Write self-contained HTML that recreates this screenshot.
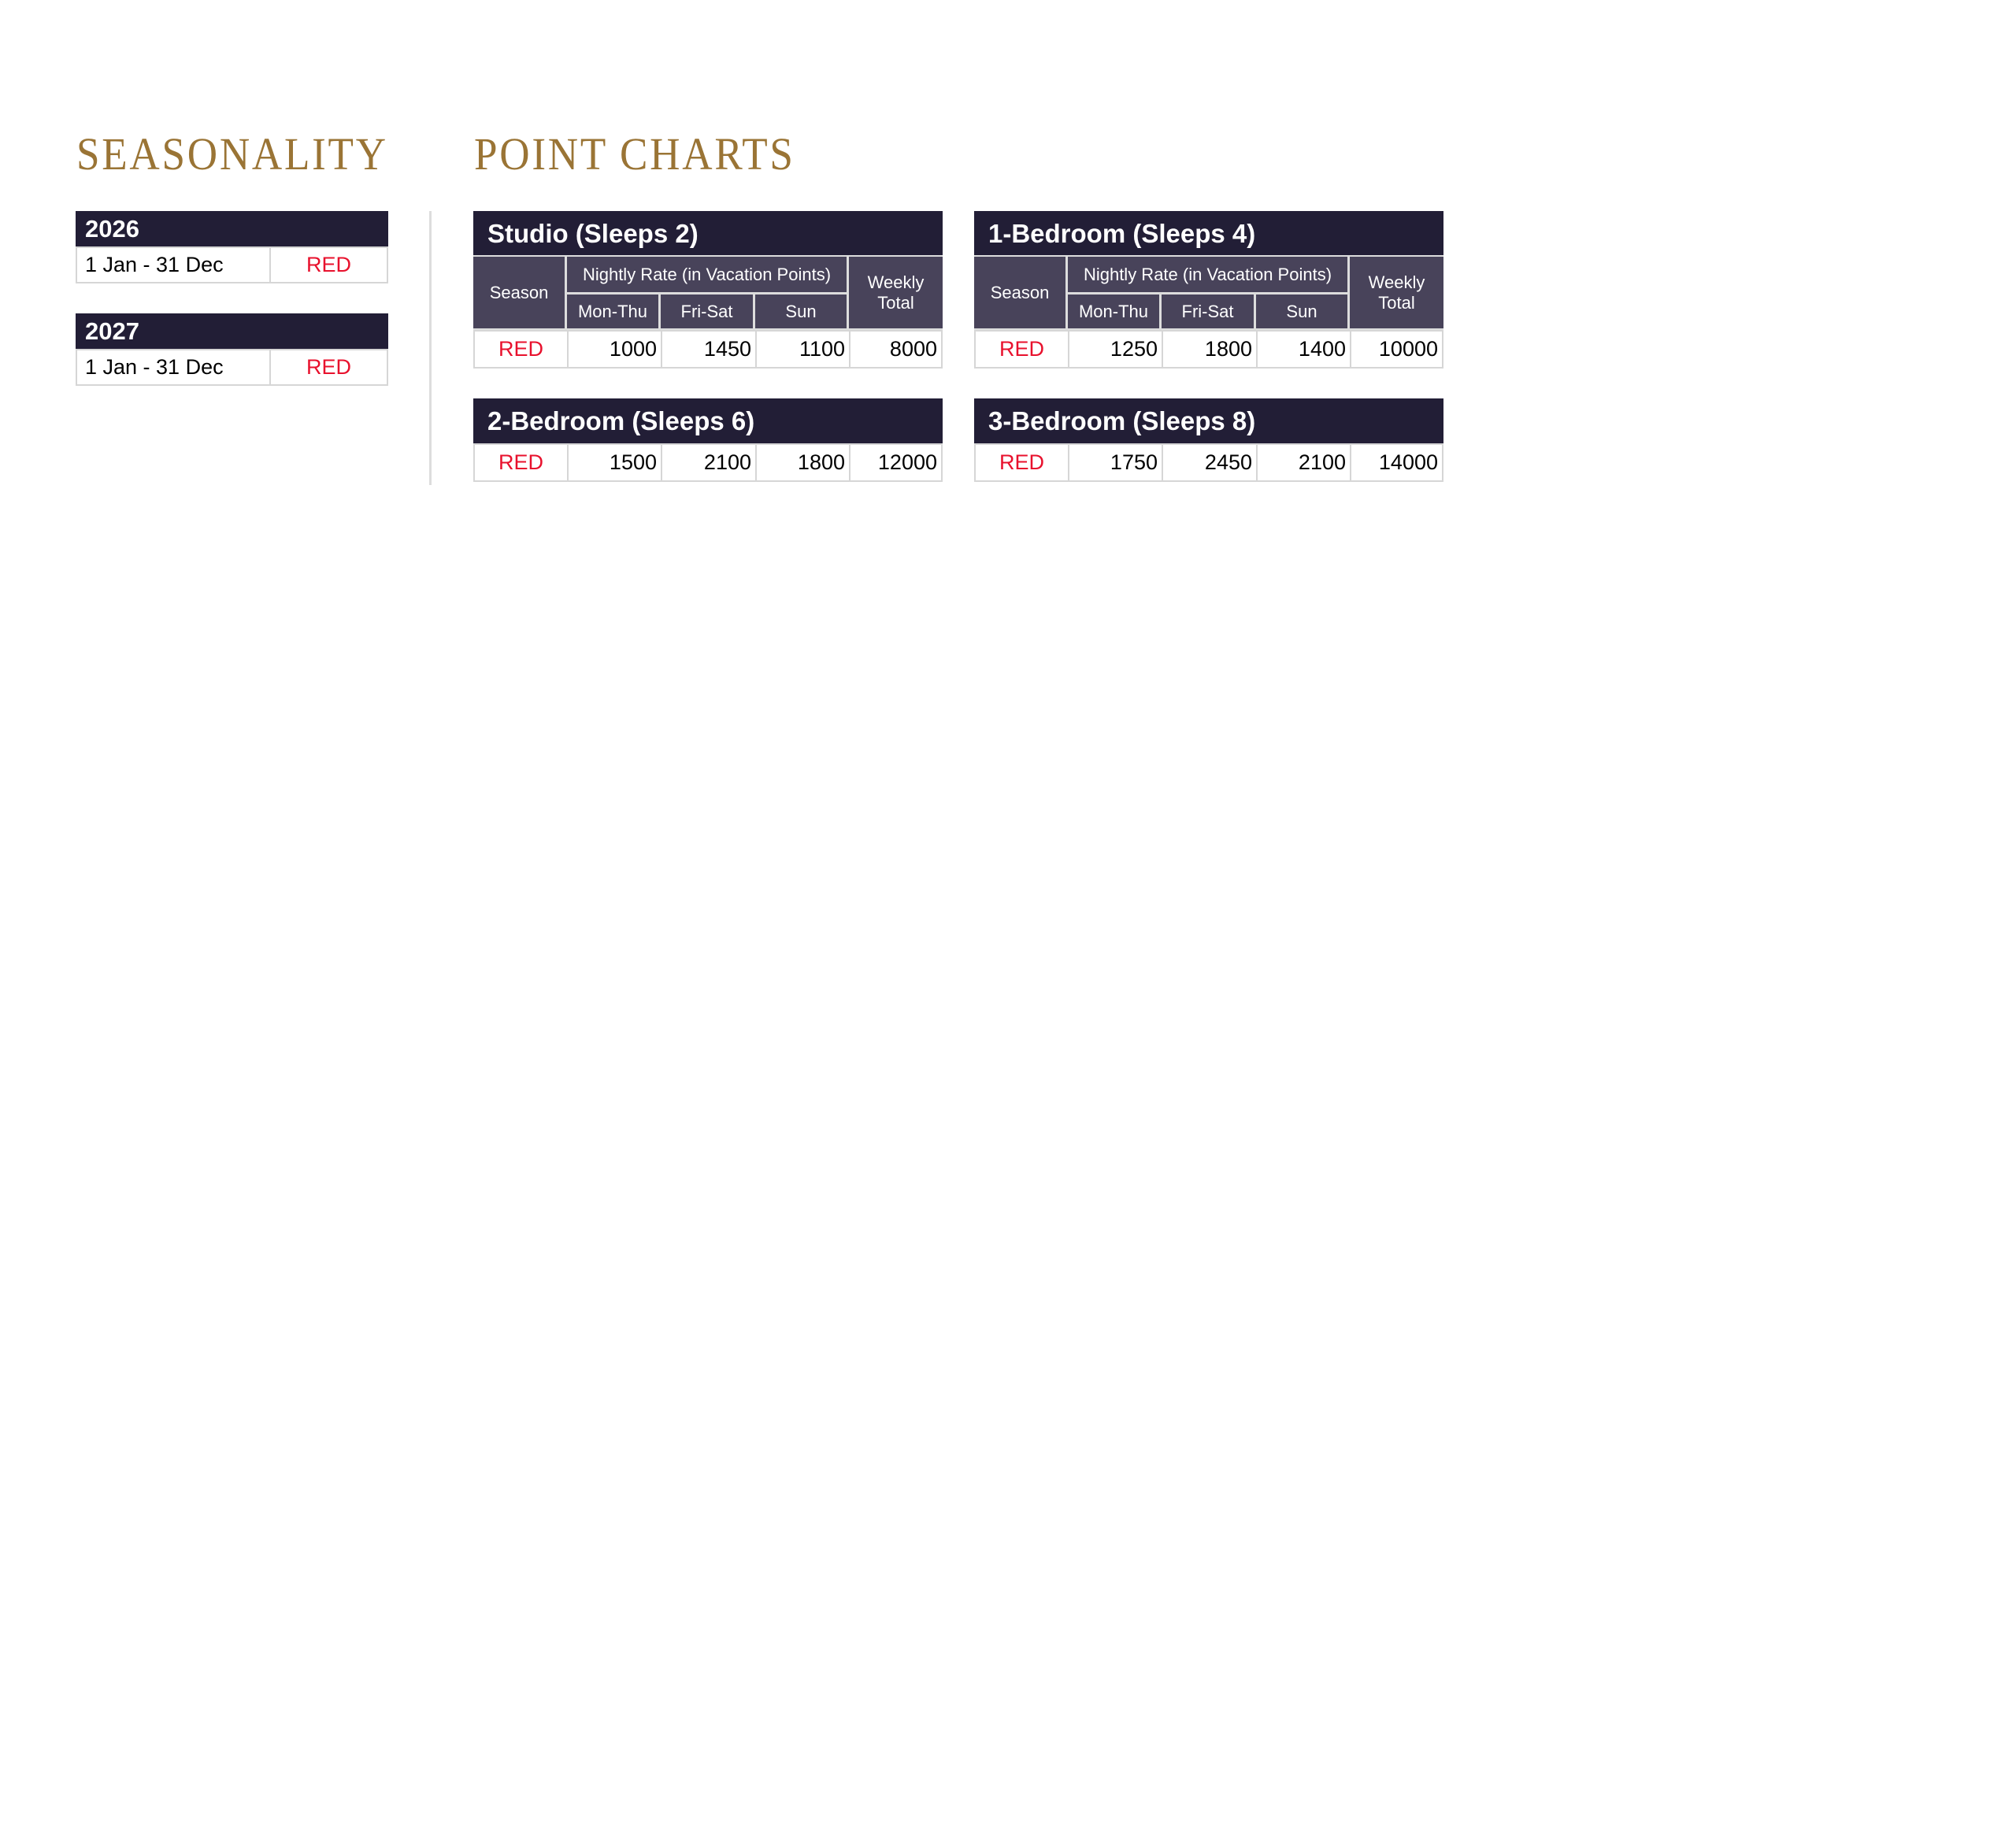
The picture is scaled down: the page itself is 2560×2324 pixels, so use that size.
<!DOCTYPE html>
<html><head><meta charset="utf-8"><style>
*{margin:0;padding:0;box-sizing:border-box}
body{width:2560px;height:2324px;background:#fff;position:relative;font-family:"Liberation Sans",sans-serif;overflow:hidden}
.a{position:absolute}
.t{position:absolute;font-family:"Liberation Serif",serif;color:#9a7435;font-size:58px;letter-spacing:3px;top:166px;line-height:60px;transform:scaleX(0.915);transform-origin:left}
.dk{position:absolute;background:#221e36;color:#fff;font-weight:bold}
.sh{position:absolute;background:#48435a;color:#fff;font-size:22px;display:flex;align-items:center;justify-content:center;text-align:center;line-height:26px;border-right:3px solid #ddd;border-bottom:3px solid #ddd}
.c{position:absolute;background:#fff;border:2px solid #d6d6d6;font-size:27px;display:flex;align-items:center;justify-content:flex-end;padding-right:5px;color:#000}
.r{color:#e8112d;justify-content:center;padding-right:0}
.tb{position:absolute;width:596px}
</style></head><body>
<div class="t" style="left:97px">SEASONALITY</div>
<div class="t" style="left:602px">POINT CHARTS</div>
<div class="a" style="left:545px;top:268px;width:3px;height:348px;background:#ddd"></div>

<!-- seasonality -->
<div class="dk" style="left:96px;top:268px;width:397px;height:46px;font-size:31px;padding-left:12px;line-height:46px">2026</div>
<div class="c" style="left:96px;top:313px;width:248px;height:47px;justify-content:flex-start;padding-left:10px">1 Jan - 31 Dec</div>
<div class="c r" style="left:342px;top:313px;width:151px;height:47px">RED</div>
<div class="dk" style="left:96px;top:398px;width:397px;height:46px;font-size:31px;padding-left:12px;line-height:46px">2027</div>
<div class="c" style="left:96px;top:443px;width:248px;height:47px;justify-content:flex-start;padding-left:10px">1 Jan - 31 Dec</div>
<div class="c r" style="left:342px;top:443px;width:151px;height:47px">RED</div>

<!-- Studio -->
<div class="tb" style="left:601px;top:268px">
<div class="dk" style="left:0;top:0;width:596px;height:58px;font-size:33px;line-height:58px;padding-left:18px;border-bottom:2px solid #ddd">Studio (Sleeps 2)</div>
<div class="sh" style="left:0;top:58px;width:119px;height:94px">Season</div>
<div class="sh" style="left:119px;top:58px;width:358px;height:48px">Nightly Rate (in Vacation Points)</div>
<div class="sh" style="left:119px;top:106px;width:119px;height:46px">Mon-Thu</div>
<div class="sh" style="left:238px;top:106px;width:120px;height:46px">Fri-Sat</div>
<div class="sh" style="left:358px;top:106px;width:119px;height:46px">Sun</div>
<div class="sh" style="left:477px;top:58px;width:119px;height:94px;border-right:none">Weekly<br>Total</div>
<div class="c r" style="left:0;top:151px;width:121px;height:49px">RED</div>
<div class="c" style="left:119px;top:151px;width:121px;height:49px">1000</div>
<div class="c" style="left:238px;top:151px;width:122px;height:49px">1450</div>
<div class="c" style="left:358px;top:151px;width:121px;height:49px">1100</div>
<div class="c" style="left:477px;top:151px;width:119px;height:49px">8000</div>
</div>

<!-- 1-Bedroom -->
<div class="tb" style="left:1237px;top:268px">
<div class="dk" style="left:0;top:0;width:596px;height:58px;font-size:33px;line-height:58px;padding-left:18px;border-bottom:2px solid #ddd">1-Bedroom (Sleeps 4)</div>
<div class="sh" style="left:0;top:58px;width:119px;height:94px">Season</div>
<div class="sh" style="left:119px;top:58px;width:358px;height:48px">Nightly Rate (in Vacation Points)</div>
<div class="sh" style="left:119px;top:106px;width:119px;height:46px">Mon-Thu</div>
<div class="sh" style="left:238px;top:106px;width:120px;height:46px">Fri-Sat</div>
<div class="sh" style="left:358px;top:106px;width:119px;height:46px">Sun</div>
<div class="sh" style="left:477px;top:58px;width:119px;height:94px;border-right:none">Weekly<br>Total</div>
<div class="c r" style="left:0;top:151px;width:121px;height:49px">RED</div>
<div class="c" style="left:119px;top:151px;width:121px;height:49px">1250</div>
<div class="c" style="left:238px;top:151px;width:122px;height:49px">1800</div>
<div class="c" style="left:358px;top:151px;width:121px;height:49px">1400</div>
<div class="c" style="left:477px;top:151px;width:119px;height:49px">10000</div>
</div>

<!-- 2-Bedroom -->
<div class="tb" style="left:601px;top:506px">
<div class="dk" style="left:0;top:0;width:596px;height:58px;font-size:33px;line-height:58px;padding-left:18px">2-Bedroom (Sleeps 6)</div>
<div class="c r" style="left:0;top:57px;width:121px;height:49px">RED</div>
<div class="c" style="left:119px;top:57px;width:121px;height:49px">1500</div>
<div class="c" style="left:238px;top:57px;width:122px;height:49px">2100</div>
<div class="c" style="left:358px;top:57px;width:121px;height:49px">1800</div>
<div class="c" style="left:477px;top:57px;width:119px;height:49px">12000</div>
</div>

<!-- 3-Bedroom -->
<div class="tb" style="left:1237px;top:506px">
<div class="dk" style="left:0;top:0;width:596px;height:58px;font-size:33px;line-height:58px;padding-left:18px">3-Bedroom (Sleeps 8)</div>
<div class="c r" style="left:0;top:57px;width:121px;height:49px">RED</div>
<div class="c" style="left:119px;top:57px;width:121px;height:49px">1750</div>
<div class="c" style="left:238px;top:57px;width:122px;height:49px">2450</div>
<div class="c" style="left:358px;top:57px;width:121px;height:49px">2100</div>
<div class="c" style="left:477px;top:57px;width:119px;height:49px">14000</div>
</div>
</body></html>
